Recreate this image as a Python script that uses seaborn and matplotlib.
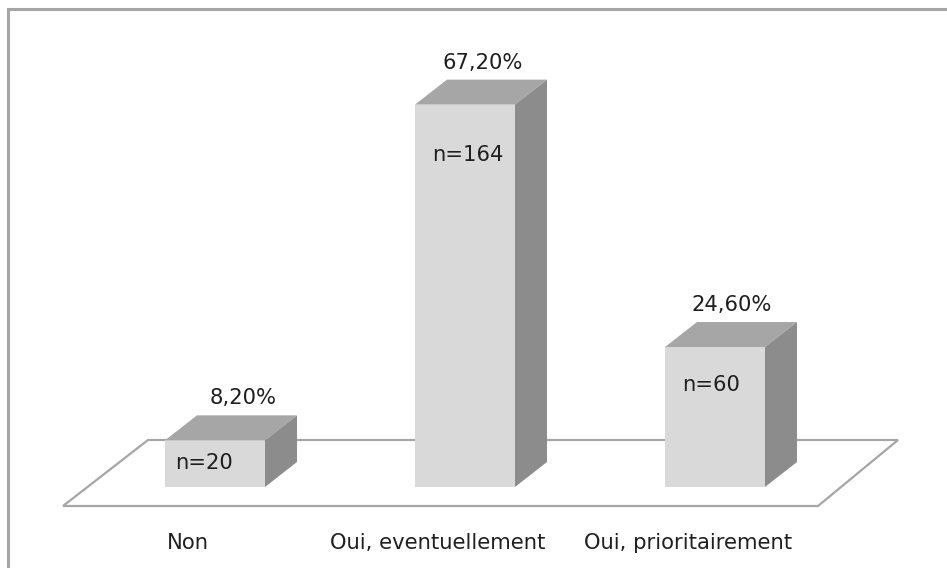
import matplotlib
matplotlib.use('Agg')
import matplotlib.pyplot as plt
import seaborn as sns
import pandas as pd
from matplotlib.patches import Polygon, Rectangle

# donnees du graphique
categories = ['Non', 'Oui, eventuellement', 'Oui, prioritairement']
pourcentages = [8.2, 67.2, 24.6]
effectifs = [20, 164, 60]

data = pd.DataFrame({'Reponse': categories, 'Pourcentage': pourcentages})

sns.set_style('white')
plt.rcParams['font.family'] = ['DejaVu Sans']
taille = 15.2

fig = plt.figure(figsize=(9.47, 5.68), dpi=100)
ax = fig.add_axes([0, 0, 1, 1])

# echelle : 250 px par categorie, 5.69 px par point de pourcentage
px_x = 250.0
px_y = 5.69
ax.set_xlim(-215 / px_x, (947 - 215) / px_x)
ax.set_ylim(-(568 - 487) / px_y, 487 / px_y)

# profondeur 3D (en px converti en donnees)
dx = 32 / px_x
dy = 25 / px_y

# sol en parallelogramme
sol = Polygon([(-152 / px_x, -19 / px_y), (603 / px_x, -19 / px_y),
               (683 / px_x, 47 / px_y), (-67 / px_x, 47 / px_y)],
              closed=True, facecolor='white', edgecolor='#a6a6a6', lw=1.6, zorder=1)
ax.add_patch(sol)

sns.barplot(data=data, x='Reponse', y='Pourcentage', color='#d9d9d9',
            width=0.4, saturation=1, ax=ax, zorder=3, linewidth=0)
ax.set_xlim(-215 / px_x, (947 - 215) / px_x)

# placement des etiquettes (en px)
decal_n = [23, 50, 38]      # sous le haut de la barre
marge_n = [10, 17, 17]      # depuis le bord gauche
decal_pct = [28, 18, 17]    # depuis le centre de la barre

w = 0.2
for i, v in enumerate(pourcentages):
    # face du dessus
    ax.add_patch(Polygon([(i - w, v), (i + w, v), (i + w + dx, v + dy), (i - w + dx, v + dy)],
                         closed=True, facecolor='#a6a6a6', edgecolor='none', zorder=4))
    # face laterale
    ax.add_patch(Polygon([(i + w, 0), (i + w + dx, dy), (i + w + dx, v + dy), (i + w, v)],
                         closed=True, facecolor='#8c8c8c', edgecolor='none', zorder=4))
    # pourcentage au-dessus
    ax.text(i + decal_pct[i] / px_x, v + dy + 17 / px_y, f'{v:.2f}%'.replace('.', ','),
            ha='center', va='center', fontsize=taille, color='#1f1f1f', zorder=5)
    # effectif dans la barre
    ax.text(i - w + marge_n[i] / px_x, v - decal_n[i] / px_y,
            f'n={effectifs[i]}', ha='left', va='center', fontsize=taille,
            color='#1f1f1f', zorder=5)
    # nom de la categorie
    ax.text(i - 27 / px_x, -56 / px_y, categories[i], ha='center', va='center',
            fontsize=taille, color='#1f1f1f', zorder=5)

ax.axis('off')

# cadre exterieur
fig.patches.append(Rectangle((8 / 947, -0.1), 1.2, 1 - 9 / 568 + 0.1,
                             transform=fig.transFigure, fill=False,
                             edgecolor='#a6a6a6', lw=2.2, zorder=0))

fig.savefig('out.png', dpi=100)
